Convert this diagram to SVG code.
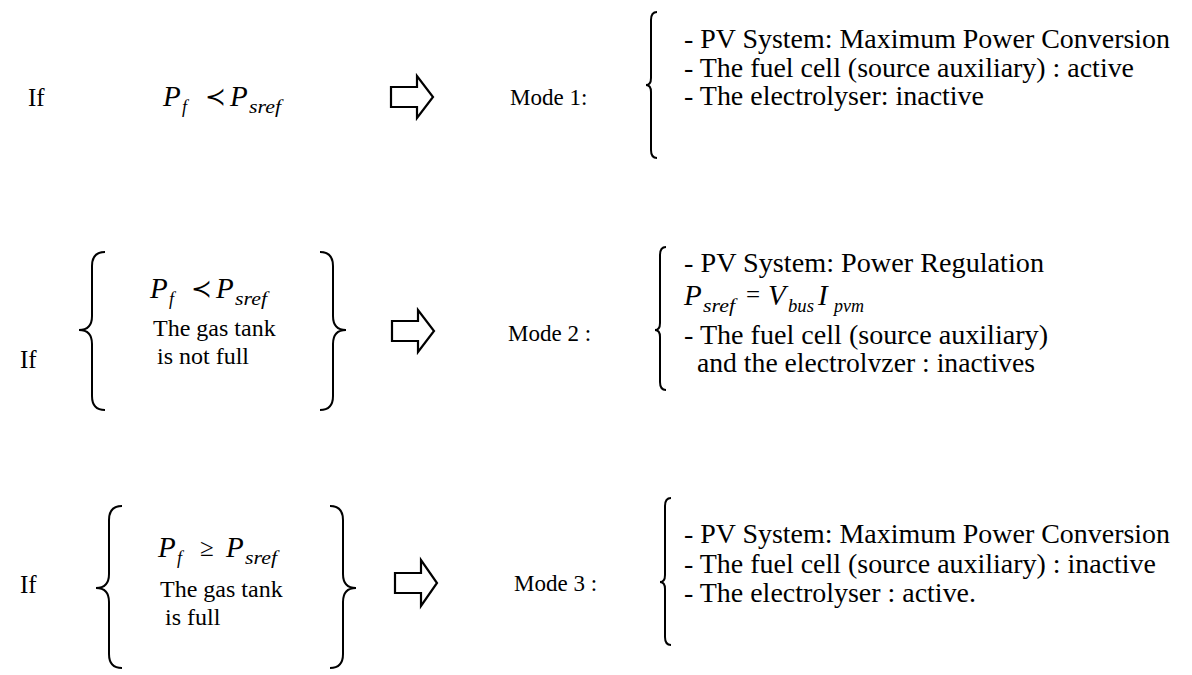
<svg xmlns="http://www.w3.org/2000/svg" width="1192" height="675" viewBox="0 0 1192 675">
<style>
text{font-family:'Liberation Serif','Times New Roman',serif;fill:#000}
.t{font-size:25px}
.c{font-size:24px}
.md{font-size:23px}
.l{font-size:27px}
.m{font-style:italic;font-size:29px}
.s{font-style:italic;font-size:18px}
.o{font-size:25px}
.b{fill:none;stroke:#000;stroke-width:2}
.a{fill:#fff;stroke:#000;stroke-width:2.2;stroke-linejoin:miter}
</style>
<defs>
<clipPath id="clip2"><rect x="600" y="230" width="592" height="142"/></clipPath>
</defs>
<rect width="1192" height="675" fill="#fff"/>

<g id="row1-condition">
<text class="t" x="28" y="106">If</text>
<text class="m" x="163" y="106">P</text><text class="s" x="182" y="113">f</text>
<text class="o" x="205" y="105">≺</text>
<text class="m" x="230" y="106">P</text><text class="s" x="249" y="113" textLength="32" lengthAdjust="spacingAndGlyphs">sref</text>
</g>
<g id="row1-mode">
<text class="md" x="510" y="105">Mode 1:</text>
<path class="b" d="M657,12 Q651,12 651,20 L651,78 Q651,85 646,85 Q651,85 651,92 L651,150 Q651,158 657,158"/>
<text class="l" x="684" y="48" textLength="486" lengthAdjust="spacingAndGlyphs">- PV System: Maximum Power Conversion</text>
<text class="l" x="684" y="77" textLength="450" lengthAdjust="spacingAndGlyphs">- The fuel cell (source auxiliary) : active</text>
<text class="l" x="684" y="105" textLength="300" lengthAdjust="spacingAndGlyphs">- The electrolyser: inactive</text>
</g>

<g id="row2-condition">
<text class="t" x="20" y="368">If</text>
<path class="b" d="M105,252 Q92,252 92,266 L92,316 Q92,330 79,330 Q92,330 92,344 L92,396 Q92,410 105,410"/>
<path class="b" d="M320,252 Q333,252 333,266 L333,316 Q333,330 346,330 Q333,330 333,344 L333,396 Q333,410 320,410"/>
<text class="m" x="150" y="298">P</text><text class="s" x="169" y="305">f</text>
<text class="o" x="191" y="297">≺</text>
<text class="m" x="216" y="298">P</text><text class="s" x="235" y="305" textLength="32" lengthAdjust="spacingAndGlyphs">sref</text>
<text class="c" x="153" y="336">The gas tank</text>
<text class="c" x="157" y="364">is not full</text>
</g>
<g id="row2-mode">
<text class="md" x="508" y="341">Mode 2 :</text>
<path class="b" d="M666,247 Q660,247 660,255 L660,323 Q660,330 655,330 Q660,330 660,337 L660,382 Q660,390 666,390"/>
<text class="l" x="684" y="272" textLength="360" lengthAdjust="spacingAndGlyphs">- PV System: Power Regulation</text>
<text class="m" x="684" y="305">P</text><text class="s" x="703" y="312" textLength="32" lengthAdjust="spacingAndGlyphs">sref</text>
<text class="o" x="746" y="303">=</text>
<text class="m" x="768" y="305">V</text><text class="s" x="788" y="312" textLength="26" lengthAdjust="spacingAndGlyphs">bus</text>
<text class="m" x="818" y="305">I</text><text class="s" x="834" y="312" textLength="30" lengthAdjust="spacingAndGlyphs">pvm</text>
<text class="l" x="684" y="344" textLength="364" lengthAdjust="spacingAndGlyphs">- The fuel cell (source auxiliary)</text>
<text class="l" x="697" y="372" clip-path="url(#clip2)" textLength="338" lengthAdjust="spacingAndGlyphs">and the electrolyzer : inactives</text>
</g>

<g id="row3-condition">
<text class="t" x="20" y="593">If</text>
<path class="b" d="M122,506 Q109,506 109,520 L109,574 Q109,588 96,588 Q109,588 109,602 L109,654 Q109,668 122,668"/>
<path class="b" d="M330,506 Q343,506 343,520 L343,574 Q343,588 356,588 Q343,588 343,602 L343,654 Q343,668 330,668"/>
<text class="m" x="158" y="557">P</text><text class="s" x="177" y="564">f</text>
<text class="o" x="200" y="556">≥</text>
<text class="m" x="226" y="557">P</text><text class="s" x="245" y="564" textLength="32" lengthAdjust="spacingAndGlyphs">sref</text>
<text class="c" x="160" y="597">The gas tank</text>
<text class="c" x="165" y="625">is  full</text>
</g>
<g id="row3-mode">
<text class="md" x="514" y="591">Mode 3 :</text>
<path class="b" d="M671,498 Q665,498 665,506 L665,575 Q665,582 660,582 Q665,582 665,589 L665,637 Q665,645 671,645"/>
<text class="l" x="684" y="543" textLength="486" lengthAdjust="spacingAndGlyphs">- PV System: Maximum Power Conversion</text>
<text class="l" x="684" y="573" textLength="472" lengthAdjust="spacingAndGlyphs">- The fuel cell (source auxiliary) : inactive</text>
<text class="l" x="684" y="602" textLength="292" lengthAdjust="spacingAndGlyphs">- The electrolyser : active.</text>
</g>

<g id="connectors">
<path class="a" d="M391,87 L417,87 L417,76 L433,97 L417,118 L417,107 L391,107 Z"/>
<path class="a" d="M392,321 L418,321 L418,310 L434,331 L418,352 L418,341 L392,341 Z"/>
<path class="a" d="M395,573 L421,573 L421,560 L437,583 L421,606 L421,593 L395,593 Z"/>
</g>
</svg>
